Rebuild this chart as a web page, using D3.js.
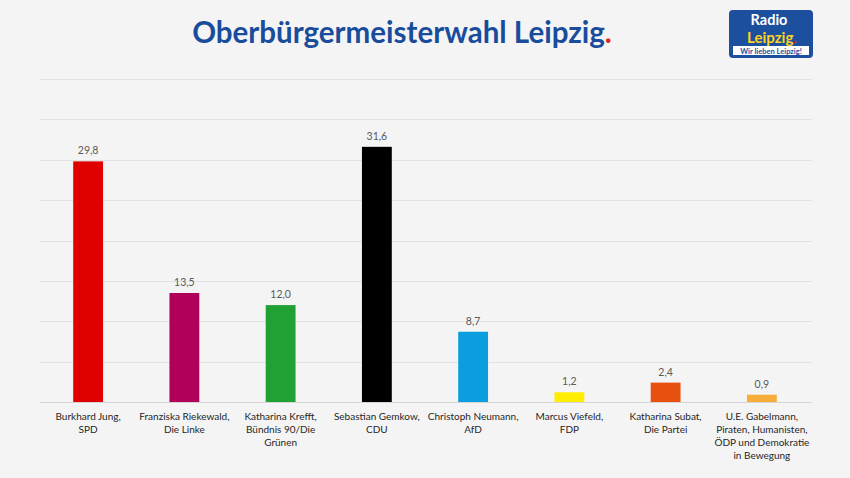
<!DOCTYPE html>
<html><head><meta charset="utf-8">
<script src="https://cdn.jsdelivr.net/npm/d3@7"></script>
<style>html,body{margin:0;padding:0;background:#f4f4f4;}</style>
</head><body>
<svg id="c" width="850" height="478"></svg>
<script>
const categories = [
  ["Burkhard Jung,", "SPD"],
  ["Franziska Riekewald,", "Die Linke"],
  ["Katharina Krefft,", "Bündnis 90/Die", "Grünen"],
  ["Sebastian Gemkow,", "CDU"],
  ["Christoph Neumann,", "AfD"],
  ["Marcus Viefeld,", "FDP"],
  ["Katharina Subat,", "Die Partei"],
  ["U.E. Gabelmann,", "Piraten, Humanisten,", "ÖDP und Demokratie", "in Bewegung"]
];
const values = [29.8, 13.5, 12.0, 31.6, 8.7, 1.2, 2.4, 0.9];
const colors = ["#e00000", "#b0005a", "#21a034", "#000000", "#0a9ee0", "#ffed00", "#e8500f", "#f6ad3a"];
const yTicks = [0, 5, 10, 15, 20, 25, 30, 35, 40];

const FONT = "Lato, 'Open Sans', sans-serif";
const svg = d3.select("#c");
svg.append("rect").attr("width", 850).attr("height", 478).attr("fill", "#f4f4f4");

const x = d3.scaleBand().domain(d3.range(categories.length)).range([40, 810]).paddingInner(0.69).paddingOuter(0.345);
const y = d3.scaleLinear().domain([0, 40]).range([402, 79]);

// gridlines
svg.append("g").selectAll("line").data(yTicks).join("line")
  .attr("x1", 40).attr("x2", 812)
  .attr("y1", d => Math.round(y(d)) + 0.5).attr("y2", d => Math.round(y(d)) + 0.5)
  .attr("stroke", d => d === 0 ? "#d6d6d6" : "#e2e2e2").attr("stroke-width", 1);

// bars
svg.append("g").selectAll("rect").data(values).join("rect")
  .attr("x", (d, i) => x(i)).attr("width", x.bandwidth())
  .attr("y", d => y(d)).attr("height", d => y(0) - y(d))
  .attr("fill", (d, i) => colors[i]);

// value labels
const fmt = v => d3.format(".1f")(v).replace(".", ",");
svg.append("g").selectAll("text").data(values).join("text")
  .attr("x", (d, i) => x(i) + x.bandwidth() / 2)
  .attr("y", d => y(d) - 7)
  .attr("text-anchor", "middle")
  .attr("font-family", FONT).attr("font-size", 10.5)
  .attr("fill", "#595959")
  .text(d => fmt(d));

// category labels
const cl = svg.append("g").selectAll("text").data(categories).join("text")
  .attr("text-anchor", "middle")
  .attr("font-family", FONT).attr("font-size", 10)
  .attr("fill", "#262626");
cl.each(function(lines, i) {
  d3.select(this).selectAll("tspan").data(lines).join("tspan")
    .attr("x", x(i) + x.bandwidth() / 2)
    .attr("y", (l, j) => 420 + j * 13)
    .text(l => l);
});

// title
const title = svg.append("text").attr("x", 402).attr("y", 43)
  .attr("text-anchor", "middle")
  .attr("font-family", FONT).attr("font-weight", "bold")
  .attr("font-size", 28).attr("fill", "#1a4c9c");
title.append("tspan").text("Oberbürgermeisterwahl Leipzig");
title.append("tspan").attr("fill", "#e2231a").text(".");
{
  const w = title.node().getComputedTextLength();
  title.attr("font-size", 28 * 420 / w);
}

// logo
const logo = svg.append("g");
logo.append("rect").attr("x", 729).attr("y", 10).attr("width", 84).attr("height", 48)
  .attr("rx", 4).attr("fill", "#1c4f9e");
logo.append("rect").attr("x", 733).attr("y", 46).attr("width", 76).attr("height", 9)
  .attr("fill", "#ffffff");
logo.append("text").attr("x", 769).attr("y", 25).attr("text-anchor", "middle")
  .attr("font-family", FONT).attr("font-weight", "bold")
  .attr("font-size", 14.5).attr("fill", "#ffffff").text("Radio");
const lp = logo.append("text").attr("x", 772).attr("y", 43).attr("text-anchor", "middle")
  .attr("font-family", FONT).attr("font-weight", "bold")
  .attr("font-size", 15).attr("fill", "#ffd21f");
lp.append("tspan").text("Leipzig");
lp.append("tspan").attr("fill", "#e2231a").text(".");
logo.append("text").attr("x", 771).attr("y", 53.5).attr("text-anchor", "middle")
  .attr("font-family", FONT).attr("font-weight", "bold")
  .attr("font-size", 7.5).attr("fill", "#1c4f9e").text("Wir lieben Leipzig!");
</script>
</body></html>
